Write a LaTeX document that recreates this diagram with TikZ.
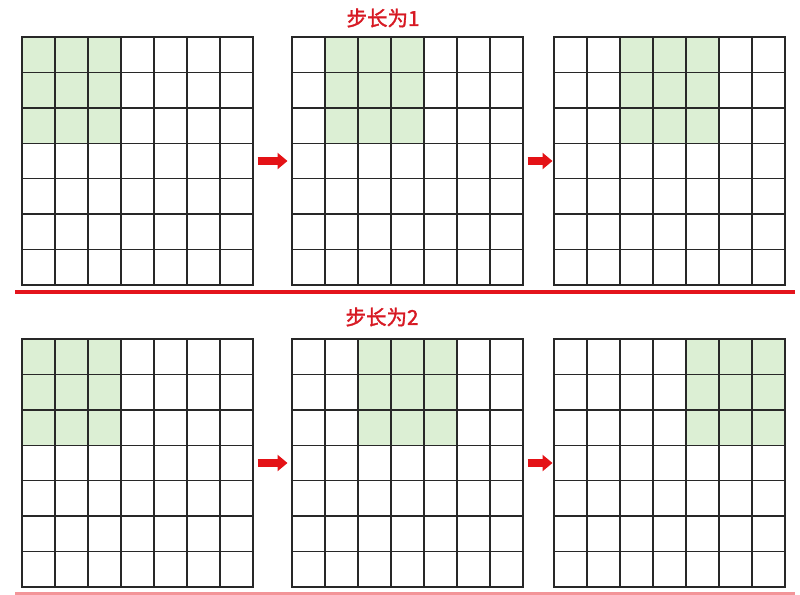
\documentclass[tikz,border=0pt]{standalone}
\usepackage{fontspec}
\newfontfamily\cjk{Noto Sans CJK SC}[FakeBold=1.6]
\usetikzlibrary{arrows.meta,calc}
\definecolor{kerngreen}{RGB}{220,239,212}
\definecolor{gridgray}{RGB}{40,40,40}
\definecolor{titlered}{RGB}{215,25,35}
\definecolor{arrowred}{RGB}{228,18,22}
\definecolor{linered}{RGB}{228,20,28}
\tikzset{
  gridline/.style={draw=gridgray,line width=1.3pt},
  gridbox/.style={minimum width=231pt,minimum height=248pt,inner sep=0pt,outer sep=0pt,anchor=north west},
  kern/.style={fill=kerngreen},
  title/.style={text=titlered,font=\cjk\fontsize{20.5}{24}\selectfont},
  moveto/.style={draw=arrowred,line width=8pt,-{Triangle[width=16pt,length=10pt]}},
  sep/.style={draw=linered,line width=3.4pt}
}
\newcommand\convgrid[4]{%
  \begin{scope}[shift={(#2,#3)}]
    \node[gridbox] (#1) at (0,0) {};
    \fill[kern] (#4*33,0) rectangle (#4*33+99,3*248/7);
    \foreach \i in {0,...,7} \draw[gridline,line cap=rect] (\i*33,0) -- (\i*33,248);
    \foreach \j in {0,...,7} \draw[gridline,line cap=rect] (0,\j*248/7) -- (231,\j*248/7);
  \end{scope}}
\begin{document}
\begin{tikzpicture}[x=1pt,y=-1pt]
  \useasboundingbox (0,0) rectangle (800,594);
  \clip (0,0) rectangle (800,594);
  \node[title] (t1) at (383,18) {步长为1};
  \node[title] (t2) at (382,317) {步长为2};
  \convgrid{a1}{22}{37}{0}
  \convgrid{a2}{292}{37}{1}
  \convgrid{a3}{554}{37}{2}
  \convgrid{b1}{22}{339}{0}
  \convgrid{b2}{292}{339}{2}
  \convgrid{b3}{554}{339}{4}
  \draw[moveto,shorten <=4.5pt,shorten >=4.5pt] (a1.east) -- (a2.west);
  \draw[moveto,shorten <=4.5pt,shorten >=1.5pt] (a2.east) -- (a3.west);
  \draw[moveto,shorten <=4.5pt,shorten >=4.5pt] (b1.east) -- (b2.west);
  \draw[moveto,shorten <=4.5pt,shorten >=1.5pt] (b2.east) -- (b3.west);
  \coordinate (l1) at (15,292);
  \coordinate (r1) at (795,292);
  \coordinate (l2) at (15,594);
  \coordinate (r2) at (795,594);
  \draw[sep] (l1) -- (r1);
  \draw[sep,draw=linered!45] (l2) -- (r2);
\end{tikzpicture}
\end{document}
